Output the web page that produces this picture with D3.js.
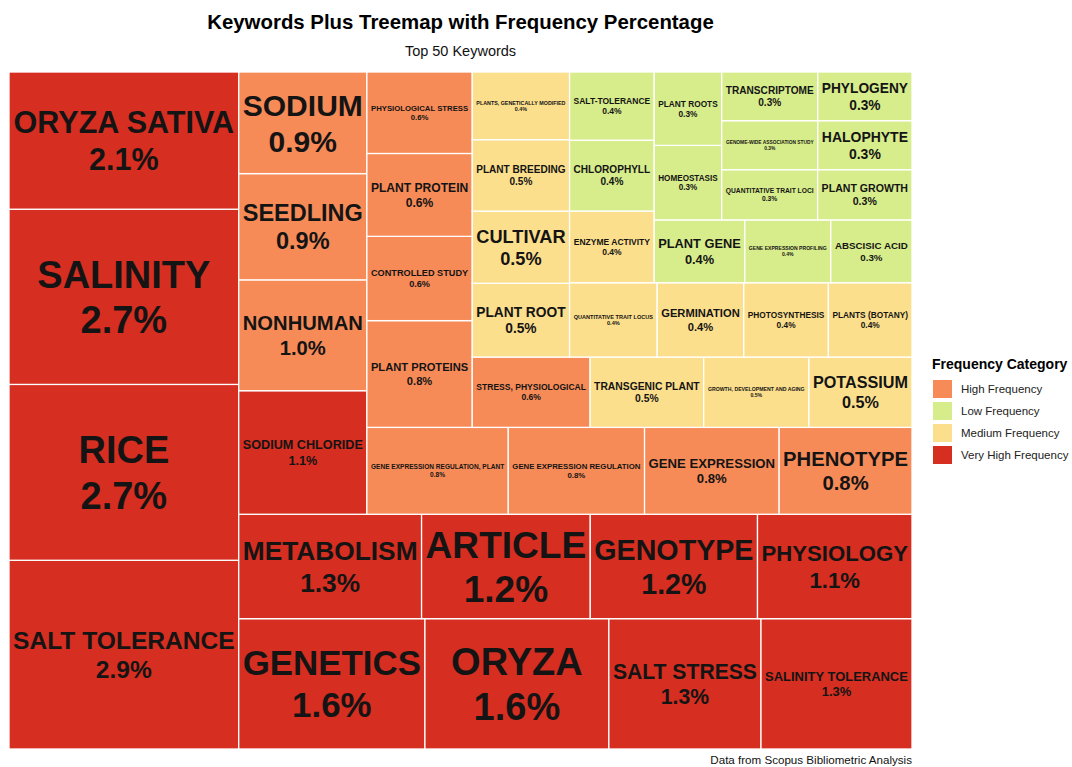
<!DOCTYPE html>
<html>
<head>
<meta charset="utf-8">
<script src="https://cdn.jsdelivr.net/npm/d3@7"></script>
<style>
  html, body { margin: 0; padding: 0; background: #ffffff; }
  svg { display: block; font-family: "Liberation Sans", Arial, Helvetica, sans-serif; }
</style>
</head>
<body>
<svg id="chart" width="1072" height="767"></svg>
<script>
// ---------------- DATA ----------------
const keywords = [
  "SALT TOLERANCE", "RICE", "SALINITY", "ORYZA SATIVA",
  "GENETICS", "ORYZA", "SALT STRESS", "SALINITY TOLERANCE",
  "METABOLISM", "ARTICLE", "GENOTYPE", "PHYSIOLOGY",
  "SODIUM CHLORIDE", "NONHUMAN", "SEEDLING", "SODIUM",
  "GENE EXPRESSION REGULATION, PLANT", "GENE EXPRESSION REGULATION", "GENE EXPRESSION", "PHENOTYPE",
  "PLANT PROTEINS", "CONTROLLED STUDY", "PLANT PROTEIN", "PHYSIOLOGICAL STRESS",
  "STRESS, PHYSIOLOGICAL", "TRANSGENIC PLANT", "GROWTH, DEVELOPMENT AND AGING", "POTASSIUM",
  "PLANT ROOT", "CULTIVAR", "PLANT BREEDING", "PLANTS, GENETICALLY MODIFIED",
  "QUANTITATIVE TRAIT LOCUS", "GERMINATION", "PHOTOSYNTHESIS", "PLANTS (BOTANY)",
  "ENZYME ACTIVITY", "CHLOROPHYLL", "SALT-TOLERANCE",
  "PLANT GENE", "GENE EXPRESSION PROFILING", "ABSCISIC ACID",
  "HOMEOSTASIS", "PLANT ROOTS",
  "QUANTITATIVE TRAIT LOCI", "PLANT GROWTH", "GENOME-WIDE ASSOCIATION STUDY",
  "TRANSCRIPTOME", "HALOPHYTE", "PHYLOGENY"
];
// frequency percentage of all keywords
const percentages = [
  2.93, 2.73, 2.72, 2.13,
  1.64, 1.62, 1.34, 1.33,
  1.29, 1.19, 1.18, 1.09,
  1.07, 0.96, 0.92, 0.88,
  0.83, 0.80, 0.79, 0.78,
  0.76, 0.60, 0.59, 0.58,
  0.56, 0.54, 0.50, 0.49,
  0.485, 0.475, 0.47, 0.445,
  0.44, 0.435, 0.425, 0.42,
  0.41, 0.405, 0.39,
  0.385, 0.365, 0.345,
  0.34, 0.335,
  0.325, 0.32, 0.318,
  0.316, 0.312, 0.31
];
const categories = [
  "Very High Frequency", "Very High Frequency", "Very High Frequency", "Very High Frequency",
  "Very High Frequency", "Very High Frequency", "Very High Frequency", "Very High Frequency",
  "Very High Frequency", "Very High Frequency", "Very High Frequency", "Very High Frequency",
  "Very High Frequency", "High Frequency", "High Frequency", "High Frequency",
  "High Frequency", "High Frequency", "High Frequency", "High Frequency",
  "High Frequency", "High Frequency", "High Frequency", "High Frequency",
  "High Frequency", "Medium Frequency", "Medium Frequency", "Medium Frequency",
  "Medium Frequency", "Medium Frequency", "Medium Frequency", "Medium Frequency",
  "Medium Frequency", "Medium Frequency", "Medium Frequency", "Medium Frequency",
  "Medium Frequency", "Low Frequency", "Low Frequency",
  "Low Frequency", "Low Frequency", "Low Frequency",
  "Low Frequency", "Low Frequency",
  "Low Frequency", "Low Frequency", "Low Frequency",
  "Low Frequency", "Low Frequency", "Low Frequency"
];
const legendCategories = ["High Frequency", "Low Frequency", "Medium Frequency", "Very High Frequency"];
const legendColors = ["#f78b58", "#d7ec8b", "#fcdf8c", "#d62e20"];

const titleText = "Keywords Plus Treemap with Frequency Percentage";
const subtitleText = "Top 50 Keywords";
const captionText = "Data from Scopus Bibliometric Analysis";
const legendTitle = "Frequency Category";

// ---------------- LAYOUT ----------------
const svg = d3.select("#chart");
const panel = { left: 9, right: 912, top: 72, bottom: 749 };

const color = d3.scaleOrdinal().domain(legendCategories).range(legendColors);

const rows = keywords.map((k, i) => ({ name: k, value: percentages[i], cat: categories[i], idx: i }));
const root = d3.hierarchy({ children: rows })
  .sum(d => d.value || 0)
  .sort((a, b) => (b.value - a.value) || (a.data.idx - b.data.idx));

// layout computed in a unit square (as treemapify does), stretched onto the panel, y pointing up
d3.treemap().tile(d3.treemapSquarify.ratio(1)).size([1, 1]).round(false)(root);

const x = d3.scaleLinear().domain([0, 1]).range([panel.left, panel.right]);
const y = d3.scaleLinear().domain([0, 1]).range([panel.bottom, panel.top]);

const leaves = root.leaves();
const g = svg.append("g");

g.selectAll("rect.tile")
  .data(leaves)
  .join("rect")
  .attr("class", "tile")
  .attr("x", d => x(d.x0))
  .attr("y", d => y(d.y1))
  .attr("width", d => x(d.x1) - x(d.x0))
  .attr("height", d => y(d.y0) - y(d.y1))
  .attr("fill", d => color(d.data.cat))
  .attr("stroke", "#ffffff")
  .attr("stroke-width", 1.3);

// text fitting
const ctx = document.createElement("canvas").getContext("2d");
ctx.font = "bold 100px 'Liberation Sans', Arial, sans-serif";
const fmt = d3.format(".1f");
const maxSize = 38, pad = 4, lineH = 1.2;

leaves.forEach(d => {
  const x0 = x(d.x0), x1 = x(d.x1), yt = y(d.y1), yb = y(d.y0);
  const w = x1 - x0, h = yb - yt;
  const lines = [d.data.name, fmt(d.data.value) + "%"];
  const widest = d3.max(lines, l => ctx.measureText(l).width / 100);
  let fs = Math.min(maxSize, (w - 2 * pad) / widest, (h - 2 * pad) / (lines.length * lineH));
  const cx = (x0 + x1) / 2, cy = (yt + yb) / 2;
  const t = g.append("text")
    .attr("text-anchor", "middle")
    .attr("font-weight", "bold")
    .attr("font-size", fs.toFixed(2) + "px")
    .attr("fill", "#141414");
  lines.forEach((l, i) => {
    const off = (i - (lines.length - 1) / 2) * fs * lineH;
    t.append("tspan")
      .attr("x", cx)
      .attr("y", cy + off + fs * 0.36)
      .text(l);
  });
});

// titles
svg.append("text")
  .attr("x", (panel.left + panel.right) / 2).attr("y", 29)
  .attr("text-anchor", "middle").attr("font-weight", "bold").attr("font-size", "20.4px")
  .attr("fill", "#000").text(titleText);
svg.append("text")
  .attr("x", (panel.left + panel.right) / 2).attr("y", 56)
  .attr("text-anchor", "middle").attr("font-size", "14.5px")
  .attr("fill", "#111").text(subtitleText);
svg.append("text")
  .attr("x", panel.right).attr("y", 764)
  .attr("text-anchor", "end").attr("font-size", "11.6px")
  .attr("fill", "#111").text(captionText);

// legend
const lg = svg.append("g").attr("transform", "translate(932,0)");
lg.append("text").attr("x", 0).attr("y", 369)
  .attr("font-weight", "bold").attr("font-size", "14px").attr("fill", "#000").text(legendTitle);
const ly = d3.scaleBand().domain(legendCategories).range([378, 466]).paddingInner(0);
lg.selectAll("rect.key").data(legendCategories).join("rect")
  .attr("class", "key")
  .attr("x", 1).attr("y", d => ly(d) + 2)
  .attr("width", 19).attr("height", 18)
  .attr("fill", d => color(d));
lg.selectAll("text.klab").data(legendCategories).join("text")
  .attr("class", "klab")
  .attr("x", 29).attr("y", d => ly(d) + 11 + 4)
  .attr("font-size", "11.5px").attr("fill", "#222").text(d => d);
</script>
</body>
</html>
